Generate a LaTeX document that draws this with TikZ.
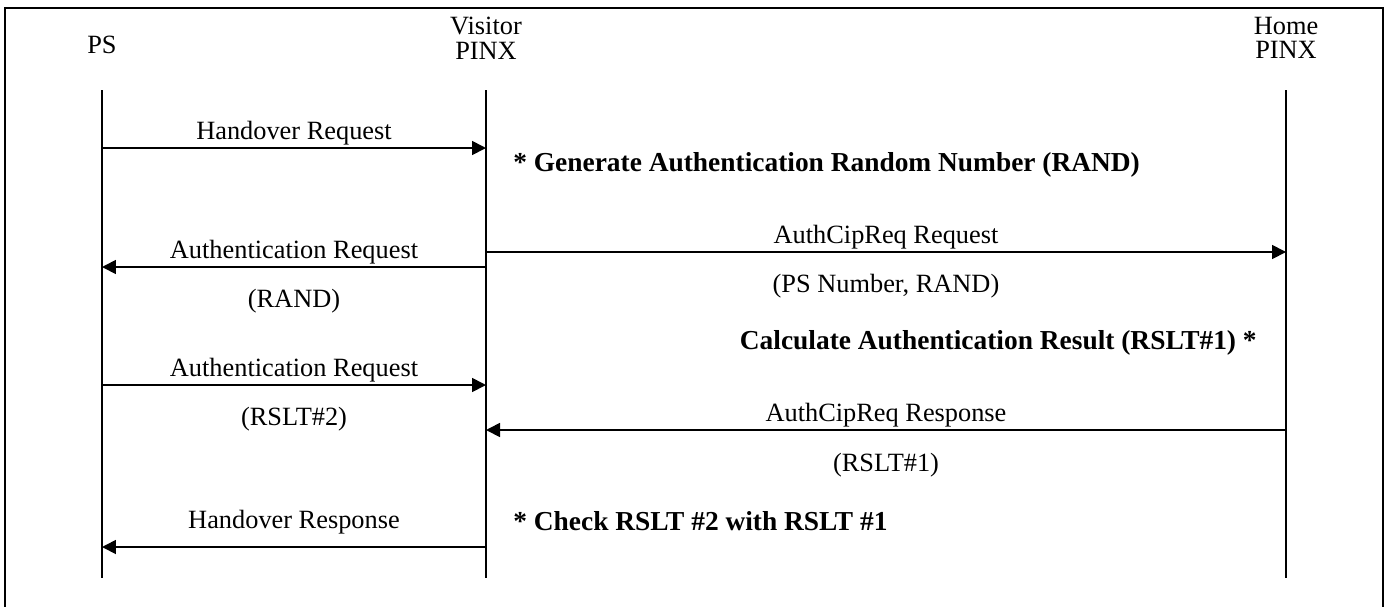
\documentclass[tikz,border=0pt]{standalone}
\usepackage{fontspec}
\setmainfont{Liberation Serif}
\usetikzlibrary{arrows.meta, positioning}

\begin{document}
\begin{tikzpicture}[x=0.02cm, y=-0.02cm, >={Triangle[length=0.28cm, width=0.28cm]},
  font=\fontsize{15}{14}\selectfont,
  entity/.style={align=center, inner sep=0pt},
  lifeline/.style={line width=1.1pt},
  msg/.style={->, line width=1pt},
  msglabel/.style={inner sep=1pt},
  note/.style={font=\fontsize{15.6}{14}\selectfont\bfseries, inner sep=0pt}]
  \useasboundingbox (0,0) rectangle (1388,606);
  \draw[line width=1.2pt] (5,8) rectangle (1383,640);
  % Entities
  \node[entity] (ps) at (102,45) {PS};
  \node[entity] (vis) at (486,38) {Visitor\\ PINX};
  \node[entity] (home) at (1286,38) {Home\\ PINX};
  \foreach \n/\x in {ps/102, vis/486, home/1286} {
    \coordinate (\n-top) at (\x,90);
    \coordinate (\n-bot) at (\x,578);
    \draw[lifeline] (\n-top) -- (\n-bot);
  }
  % Message rows
  \coordinate (r1) at (0,148);
  \coordinate (r2) at (0,252);
  \coordinate (r3) at (0,267);
  \coordinate (r4) at (0,385);
  \coordinate (r5) at (0,430);
  \coordinate (r6) at (0,547);
  % Messages
  \draw[msg] (ps-top |- r1) -- node[msglabel, above] {Handover Request} (vis-top |- r1);
  \draw[msg] (vis-top |- r2) -- node[msglabel, above] {AuthCipReq Request}
    node[msglabel, below=0.4cm] {(PS Number, RAND)} (home-top |- r2);
  \draw[msg] (vis-top |- r3) -- node[msglabel, above] {Authentication Request}
    node[msglabel, below=0.4cm] {(RAND)} (ps-top |- r3);
  \draw[msg] (ps-top |- r4) -- node[msglabel, above] {Authentication Request}
    node[msglabel, below=0.4cm] {(RSLT\#2)} (vis-top |- r4);
  \draw[msg] (home-top |- r5) -- node[msglabel, above] {AuthCipReq Response}
    node[msglabel, below=0.42cm] {(RSLT\#1)} (vis-top |- r5);
  \draw[msg] (vis-top |- r6) -- node[msglabel, above=0.2cm] {Handover Response} (ps-top |- r6);
  % Notes
  \node[note, anchor=west] (gen) at (513,165) {* Generate Authentication Random Number (RAND)};
  \node[note, anchor=east] (calc) at (1257,343) {Calculate Authentication Result (RSLT\#1) *};
  \node[note, anchor=west] (chk) at (513,521) {* Check RSLT \#2 with RSLT \#1};
\end{tikzpicture}
\end{document}
